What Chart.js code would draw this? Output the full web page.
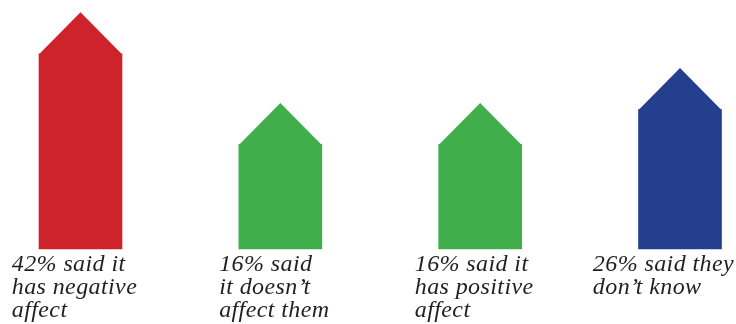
<!DOCTYPE html>
<html>
<head>
<meta charset="utf-8">
<script src="https://cdn.jsdelivr.net/npm/chart.js@4.4.0/dist/chart.umd.min.js"></script>
<style>
  html, body { margin: 0; padding: 0; background: #ffffff; }
  #wrap { width: 736px; height: 324px; position: relative; }
</style>
</head>
<body>
<div id="wrap"><canvas id="houses"></canvas></div>
<script>
// Survey answers, one house per answer
const answers = ['negative', 'none', 'positive', 'unsure'];
const percents = [42, 16, 16, 26];
const houseColors = ['#cf232b', '#41ae4c', '#41ae4c', '#253f8f'];
const captions = [
    ['42% said it', 'has negative', 'affect'],
    ['16% said', 'it doesn\u2019t', 'affect them'],
    ['16% said it', 'has positive', 'affect'],
    ['26% said they', 'don\u2019t know']
];

const Y_MIN = -14;
const Y_MAX = 54;

// Triangular roof on top of each bar, same colour as the bar
const roofPlugin = {
    id: 'roofs',
    afterDatasetsDraw(chart) {
        const ctx = chart.ctx;
        const meta = chart.getDatasetMeta(0);
        ctx.save();
        meta.data.forEach((bar, i) => {
            const half = bar.width / 2;
            ctx.fillStyle = houseColors[i];
            ctx.beginPath();
            ctx.moveTo(bar.x - half, bar.y + 0.5);
            ctx.lineTo(bar.x, bar.y - half);
            ctx.lineTo(bar.x + half, bar.y + 0.5);
            ctx.closePath();
            ctx.fill();
        });
        ctx.restore();
    }
};

// Italic captions under each house, left aligned as a block
const captionPlugin = {
    id: 'captions',
    afterDraw(chart) {
        const ctx = chart.ctx;
        const xScale = chart.scales.x;
        ctx.save();
        ctx.font = 'italic 24px "Liberation Serif", serif';
        ctx.letterSpacing = '0.4px';
        ctx.fillStyle = '#231f20';
        ctx.textAlign = 'left';
        ctx.textBaseline = 'alphabetic';
        captions.forEach((lines, i) => {
            const cx = xScale.getPixelForTick(i);
            const widest = Math.max(...lines.map(l => ctx.measureText(l).width));
            const left = Math.min(cx - widest / 2 - 6, 734 - widest);
            lines.forEach((line, j) => {
                ctx.fillText(line, left, 271 + j * 23);
            });
        });
        ctx.restore();
    }
};

new Chart(document.getElementById('houses'), {
    type: 'bar',
    data: {
        labels: answers,
        datasets: [{
            data: percents,
            backgroundColor: houseColors,
            borderWidth: 0,
            barThickness: 83,
            base: Y_MIN,
            clip: false
        }]
    },
    options: {
        responsive: true,
        maintainAspectRatio: false,
        animation: false,
        events: [],
        layout: { padding: { left: 80.5, right: 56, top: 12, bottom: 75 } },
        plugins: {
            legend: { display: false },
            tooltip: { enabled: false }
        },
        scales: {
            x: { display: false, offset: false },
            y: { display: false, min: Y_MIN, max: Y_MAX }
        }
    },
    plugins: [roofPlugin, captionPlugin]
});
</script>
</body>
</html>
